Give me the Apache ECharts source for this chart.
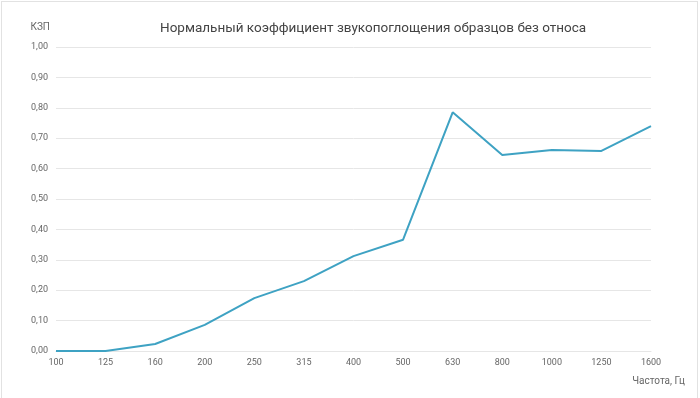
<!DOCTYPE html>
<html>
<head>
<meta charset="utf-8">
<script src="https://cdn.jsdelivr.net/npm/echarts@6/dist/echarts.min.js"></script>
<style>
  html, body { margin: 0; padding: 0; background: #fff; }
  #frame {
    position: absolute; left: 1px; top: 1px;
    width: 695px; height: 400px;
    border: 1px solid #e2e2e2;
  }
  #chart { position: absolute; left: -2px; top: -2px; width: 700px; height: 398px; }
</style>
</head>
<body>
<div id="frame"><div id="chart"></div></div>
<script>
const frequencies = ['100', '125', '160', '200', '250', '315', '400', '500', '630', '800', '1000', '1250', '1600']
const absorption = [0.0, 0.0, 0.023, 0.086, 0.174, 0.23, 0.312, 0.366, 0.785, 0.645, 0.661, 0.658, 0.74]

const chart = echarts.init(document.getElementById('chart'))
const grey = '#666'

chart.setOption({
  animation: false,
  textStyle: { fontFamily: 'Roboto' },
  title: {
    text: 'Нормальный коэффициент звукопоглощения образцов без относа',
    left: 155,
    top: 17,
    textStyle: { fontSize: 13.5, fontWeight: 'normal', color: '#444' }
  },
  grid: { left: 56, right: 49, top: 47, bottom: 47 },
  xAxis: {
    type: 'category',
    data: frequencies,
    boundaryGap: false,
    name: 'Частота, Гц',
    nameLocation: 'end',
    nameGap: 0,
    nameTextStyle: { color: grey, fontSize: 10, align: 'right', verticalAlign: 'top', padding: [25, -34, 0, 0] },
    axisLine: { show: true, lineStyle: { color: '#e6e6e6' } },
    axisTick: { show: false },
    axisLabel: { color: grey, fontSize: 9, margin: 7 }
  },
  yAxis: {
    type: 'value',
    min: 0,
    max: 1,
    interval: 0.1,
    name: 'КЗП',
    nameLocation: 'end',
    nameGap: 15,
    nameTextStyle: { color: grey, fontSize: 10, align: 'right', padding: [0, 6, 0, 0] },
    axisLine: { show: false },
    axisTick: { show: false },
    splitLine: { lineStyle: { color: '#e6e6e6' } },
    axisLabel: {
      color: grey,
      fontSize: 9,
      margin: 8,
      formatter: v => v.toFixed(2).replace('.', ',')
    }
  },
  series: [
    {
      type: 'line',
      data: absorption,
      symbol: 'none',
      lineStyle: { color: '#3ea2c3', width: 2 }
    }
  ]
})
</script>
</body>
</html>
